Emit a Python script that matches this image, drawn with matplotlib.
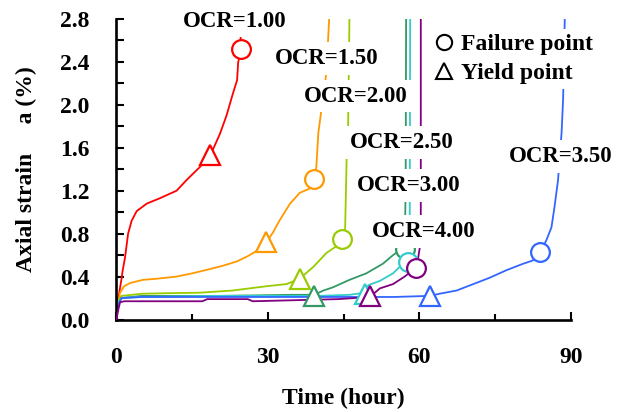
import numpy as np
import matplotlib
matplotlib.use('Agg')
import matplotlib.pyplot as plt
from matplotlib.lines import Line2D
from matplotlib.ticker import MultipleLocator

# creep curves: time (hour) vs axial strain (%)
t_100 = [0, 0.3, 1.0, 1.2, 1.7, 2.3, 3.0, 4.0, 6.0, 8.6, 11.9, 13.9, 16.5, 18.6, 20.5, 21.8, 23.1, 23.9, 24.1, 24.6, 24.6]
e_100 = [0, 0.18, 0.38, 0.45, 0.58, 0.80, 0.92, 1.01, 1.08, 1.13, 1.20, 1.30, 1.42, 1.53, 1.73, 1.90, 2.11, 2.23, 2.39, 2.52, 2.95]

t_150 = [0, 0.3, 0.7, 1.5, 2.7, 5.3, 8, 11.9, 15, 18.5, 21, 23.8, 26, 27.8, 29.7, 31, 32.4, 34.4, 36.3, 38.3, 39.2, 39.6, 40.0, 40.6, 41.6, 42.3]
e_150 = [0, 0.14, 0.25, 0.31, 0.34, 0.37, 0.38, 0.40, 0.43, 0.47, 0.50, 0.54, 0.59, 0.64, 0.72, 0.81, 0.93, 1.08, 1.18, 1.22, 1.31, 1.42, 1.74, 1.95, 2.30, 2.95]

t_200 = [0, 0.3, 1.0, 5, 10, 16.5, 23, 29.7, 33.7, 36.3, 39.0, 41.6, 43.5, 44.6, 45.3, 45.6, 45.9, 46.2]
e_200 = [0, 0.17, 0.22, 0.24, 0.245, 0.25, 0.27, 0.31, 0.33, 0.38, 0.49, 0.62, 0.68, 0.75, 0.83, 1.48, 1.80, 2.95]

t_250 = [0, 0.3, 1.0, 5, 20, 35, 39.2, 41, 42.9, 46.2, 49.5, 52.8, 54.8, 56.0, 57.1, 57.3, 57.4]
e_250 = [0, 0.15, 0.20, 0.22, 0.22, 0.23, 0.23, 0.27, 0.30, 0.37, 0.43, 0.52, 0.60, 0.64, 0.66, 1.2, 2.95]

t_300 = [0, 0.3, 1.0, 5, 20, 40, 46.2, 49.2, 49.9, 52.2, 54.8, 56.1, 57.7, 58.1, 58.2]
e_300 = [0, 0.15, 0.20, 0.21, 0.22, 0.22, 0.23, 0.25, 0.32, 0.36, 0.43, 0.49, 0.535, 0.65, 2.95]

t_350 = [0, 0.2, 1.0, 5, 30, 55, 62.1, 64, 67.4, 70.7, 74, 77.3, 80.6, 82.5, 84, 85.2, 86.2, 86.8, 87.5, 88.2, 88.5, 88.9]
e_350 = [0, 0.12, 0.20, 0.21, 0.21, 0.21, 0.22, 0.24, 0.27, 0.33, 0.39, 0.46, 0.52, 0.55, 0.63, 0.74, 0.86, 1.05, 1.30, 1.74, 2.05, 2.95]

t_400 = [0, 0.3, 0.7, 1.5, 5, 17, 18, 26, 27, 44, 50.2, 52.2, 54.8, 57.1, 59.3, 59.8, 60.1, 60.3, 60.3]
e_400 = [0, 0.08, 0.16, 0.17, 0.17, 0.17, 0.19, 0.19, 0.17, 0.19, 0.21, 0.29, 0.33, 0.40, 0.48, 0.58, 0.67, 0.80, 2.95]

ocr = ['OCR=1.00', 'OCR=1.50', 'OCR=2.00', 'OCR=2.50', 'OCR=3.00', 'OCR=3.50', 'OCR=4.00']
times = [t_100, t_150, t_200, t_250, t_300, t_350, t_400]
strains = [e_100, e_150, e_200, e_250, e_300, e_350, e_400]
colors = ['#ff0000', '#ff9900', '#99cc00', '#339966', '#33cccc', '#3366ff', '#800080']

yield_t = [18.6, 29.7, 36.3, 39.2, 49.2, 62.1, 50.2]
yield_e = [1.53, 0.72, 0.38, 0.22, 0.24, 0.22, 0.22]
fail_t = [24.6, 39.2, 44.6, 57.1, 57.7, 84.0, 59.3]
fail_e = [2.52, 1.31, 0.75, 0.66, 0.535, 0.63, 0.48]

label_t = [23.5, 41.6, 47.4, 56.5, 57.9, 88.0, 60.9]
label_e = [2.78, 2.43, 2.08, 1.65, 1.25, 1.52, 0.82]

plt.rcParams['font.family'] = ['Liberation Serif', 'DejaVu Serif']
plt.rcParams['font.weight'] = 'bold'

fig = plt.figure(figsize=(6.28, 4.12), dpi=100)
ax = fig.add_axes([0.1855, 0.2245, 0.7232, 0.7294])

for i in range(len(ocr)):
    ax.plot(times[i], strains[i], color=colors[i], lw=1.3, zorder=2 + i * 0.1)
for i in range(len(ocr)):
    ax.plot(yield_t[i], yield_e[i], marker='^', ms=14, mfc='white', mec=colors[i],
            mew=1.6, ls='none', zorder=3 + i * 0.1)
    ax.plot(fail_t[i], fail_e[i], marker='o', ms=13.5, mfc='white', mec=colors[i],
            mew=1.6, ls='none', zorder=3 + i * 0.1)
    ax.text(label_t[i], label_e[i], ocr[i], fontsize=16.5, fontweight='bold',
            ha='center', va='center', zorder=5,
            bbox=dict(boxstyle='square,pad=0.25', fc='white', ec='none'))

ax.set_xlim(0, 90)
ax.set_ylim(0, 2.8)
ax.xaxis.set_major_locator(MultipleLocator(30))
ax.xaxis.set_minor_locator(MultipleLocator(15))
ax.yaxis.set_major_locator(MultipleLocator(0.4))
ax.yaxis.set_minor_locator(MultipleLocator(0.2))
ax.yaxis.set_major_formatter(matplotlib.ticker.FormatStrFormatter('%.1f'))

ax.spines['top'].set_visible(False)
ax.spines['right'].set_visible(False)
for s in ['left', 'bottom']:
    ax.spines[s].set_linewidth(1.9)
ax.tick_params(which='major', direction='in', length=5.5, width=1.5, labelsize=17, pad=19.5)
ax.tick_params(which='minor', direction='in', length=4.5, width=1.5)
ax.tick_params(axis='y', which='minor', length=5.5)
for lab in ax.get_xticklabels() + ax.get_yticklabels():
    lab.set_fontweight('bold')

ax.set_xlabel('Time (hour)', fontsize=17, fontweight='bold')
ax.set_ylabel('Axial strain     a (%)', fontsize=17, fontweight='bold')
ax.xaxis.set_label_coords(0.5, -0.228)
ax.yaxis.set_label_coords(-0.175, 0.5)

handles = [Line2D([], [], marker='o', ls='none', ms=11, mfc='white', mec='black', mew=1.5),
           Line2D([], [], marker='^', ls='none', ms=11, mfc='white', mec='black', mew=1.5)]
leg = ax.legend(handles, ['Failure point', 'Yield point'], loc='upper left',
                bbox_to_anchor=(0.69, 0.968), frameon=True, fancybox=False,
                handlelength=0.8, handletextpad=0.3, labelspacing=0.32,
                borderpad=0.2, borderaxespad=0, prop={'size': 17, 'weight': 'bold'})
leg.get_frame().set_edgecolor('none')
leg.get_frame().set_facecolor('white')
leg.get_frame().set_alpha(1)
leg.set_zorder(6)

fig.savefig('out.png', dpi=100)
